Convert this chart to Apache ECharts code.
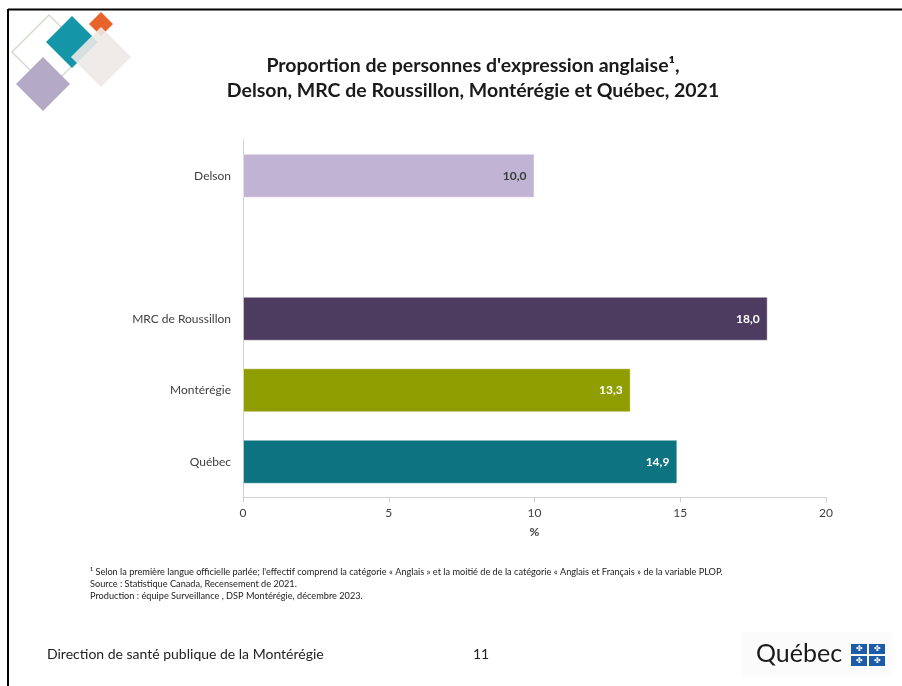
<!DOCTYPE html>
<html><head><meta charset="utf-8">
<script src="https://cdn.jsdelivr.net/npm/echarts@6/dist/echarts.min.js"></script>
<style>html,body{margin:0;padding:0;background:#fff}#c{width:902px;height:686px}</style>
</head><body><div id="c"></div>
<script>
const categories = ['Québec', 'Montérégie', 'MRC de Roussillon', '', 'Delson'];
const values = [14.9, 13.3, 18.0, null, 10.0];
const barColors = ['#0E7380', '#8F9D00', '#4E3B60', '#ffffff', '#C0B3D3'];
const labelColors = ['#ffffff', '#ffffff', '#ffffff', '#ffffff', '#3a3a3a'];
const xTicks = [0, 5, 10, 15, 20];
const titleText = "Proportion de personnes d'expression anglaise¹,\nDelson, MRC de Roussillon, Montérégie et Québec, 2021";
const footnotes = [
  "¹ Selon la première langue officielle parlée; l'effectif comprend la catégorie « Anglais » et la moitié de de la catégorie « Anglais et Français » de la variable PLOP.",
  "Source : Statistique Canada, Recensement de 2021.",
  "Production : équipe Surveillance , DSP Montérégie, décembre 2023."
];
const footerLeft = "Direction de santé publique de la Montérégie";
const pageNumber = "11";

const chart = echarts.init(document.getElementById('c'));
const FONT = 'Lato, "Open Sans", sans-serif';
function diamond(cx, cy, half, style, z) {
  return {type: 'polygon', shape: {points: [[cx, cy - half], [cx + half, cy], [cx, cy + half], [cx - half, cy]]}, style: style, z: z || 1};
}
chart.setOption({
  animation: false,
  title: {
    text: titleText, left: 468, top: 48, textAlign: 'center',
    textStyle: {fontFamily: FONT, fontWeight: 'bold', fontSize: 19.5, color: '#1a1a1a', lineHeight: 25}
  },
  grid: {left: 243, right: 76, top: 140, height: 357.5},
  xAxis: {
    type: 'value', min: 0, max: 20, interval: 5,
    name: '%', nameLocation: 'middle', nameGap: 29,
    nameTextStyle: {fontFamily: FONT, fontSize: 12, fontWeight: 'bold', color: '#404040'},
    axisLine: {show: true, lineStyle: {color: '#d0d0d0'}},
    axisTick: {show: true, length: 5, lineStyle: {color: '#d0d0d0'}},
    axisLabel: {fontFamily: FONT, fontSize: 12, color: '#404040', margin: 10,
      formatter: v => xTicks.includes(v) ? String(v) : ''},
    splitLine: {show: false}
  },
  yAxis: {
    type: 'category', data: categories,
    axisLine: {show: true, lineStyle: {color: '#d0d0d0'}},
    axisTick: {show: false},
    axisLabel: {fontFamily: FONT, fontSize: 12, color: '#404040', margin: 12}
  },
  series: [{
    type: 'bar', barWidth: 44,
    data: values.map((v, i) => ({
      value: v,
      itemStyle: {color: barColors[i], borderColor: 'rgba(255,255,255,0.45)', borderWidth: 1},
      label: {color: labelColors[i]}
    })),
    label: {show: true, position: 'insideRight', distance: 8, fontFamily: FONT, fontSize: 12, fontWeight: 'bold',
      formatter: p => p.value == null ? '' : p.value.toFixed(1).replace('.', ',')}
  }],
  graphic: [
    {type: 'line', shape: {x1: 8, y1: 9.5, x2: 902, y2: 9.5}, style: {stroke: '#000', lineWidth: 2}},
    {type: 'line', shape: {x1: 8, y1: 9, x2: 8, y2: 686}, style: {stroke: '#000', lineWidth: 2}},
    diamond(49, 52, 37, {fill: 'none', stroke: '#d4dbd0', lineWidth: 1.5}, 1),
    diamond(43, 84, 27, {fill: '#B4AAC8'}, 2),
    diamond(101, 24, 12, {fill: '#E8632A'}, 2),
    diamond(101, 57, 30, {fill: 'rgba(236,233,230,0.85)'}, 3),
    diamond(72, 42, 26, {fill: '#1496A8'}, 2),
    diamond(101, 57, 30, {fill: 'rgba(236,233,230,0.35)'}, 4),
    {type: 'text', left: 90, top: 566, style: {text: footnotes.join('\n'), font: '9.2px ' + FONT, fill: '#222', lineHeight: 12}},
    {type: 'text', left: 47, top: 647, style: {text: footerLeft, font: '14px ' + FONT, fill: '#222'}},
    {type: 'text', left: 473, top: 647, style: {text: pageNumber, font: '14px ' + FONT, fill: '#222'}},
    {type: 'rect', shape: {x: 742, y: 632, width: 150, height: 44}, style: {fill: '#fbfbfb'}},
    {type: 'text', left: 756, top: 641, style: {text: 'Québec', font: '25px Lato, "Open Sans", sans-serif', fill: '#1a1a1a'}},
    {type: 'rect', shape: {x: 851, y: 644, width: 16, height: 10}, style: {fill: '#1D5AA8'}},
    {type: 'rect', shape: {x: 869, y: 644, width: 16, height: 10}, style: {fill: '#1D5AA8'}},
    {type: 'rect', shape: {x: 851, y: 656, width: 16, height: 10}, style: {fill: '#1D5AA8'}},
    {type: 'rect', shape: {x: 869, y: 656, width: 16, height: 10}, style: {fill: '#1D5AA8'}},
    {type: 'text', x: 859, y: 649, style: {text: '✤', font: '8px sans-serif', fill: '#fff', align: 'center', verticalAlign: 'middle'}},
    {type: 'text', x: 877, y: 649, style: {text: '✤', font: '8px sans-serif', fill: '#fff', align: 'center', verticalAlign: 'middle'}},
    {type: 'text', x: 859, y: 661, style: {text: '✤', font: '8px sans-serif', fill: '#fff', align: 'center', verticalAlign: 'middle'}},
    {type: 'text', x: 877, y: 661, style: {text: '✤', font: '8px sans-serif', fill: '#fff', align: 'center', verticalAlign: 'middle'}}
  ]
});
</script></body></html>
